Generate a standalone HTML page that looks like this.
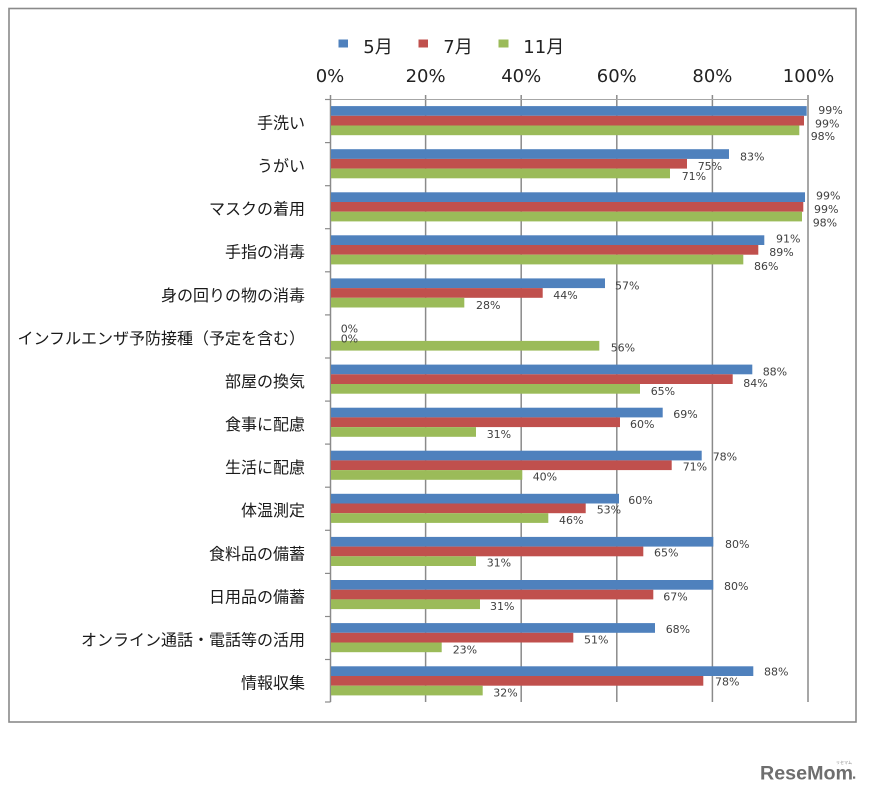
<!DOCTYPE html>
<html><head><meta charset="utf-8"><style>
html,body{margin:0;padding:0;background:#fff;}
svg{display:block;}
</style></head><body>
<svg width="869" height="797" viewBox="0 0 869 797" xmlns="http://www.w3.org/2000/svg">
<rect x="0" y="0" width="869" height="797" fill="#fff"/>
<rect x="9" y="8.5" width="847" height="713.5" fill="#fff" stroke="#8a8a8a" stroke-width="1.6"/>

<!-- legend -->
<g font-family="'DejaVu Sans','Noto Sans CJK JP',sans-serif" font-size="18" fill="#222">
<rect x="338.5" y="39.5" width="9.5" height="8" fill="#4F81BD"/>
<text x="363.3" y="53">5月</text>
<rect x="418.5" y="39.5" width="9.5" height="8" fill="#C0504D"/>
<text x="443.3" y="53">7月</text>
<rect x="498.5" y="39.5" width="10" height="8" fill="#9BBB59"/>
<text x="523.3" y="53">11月</text>
</g>

<!-- tick labels -->
<g font-family="'DejaVu Sans',sans-serif" font-size="18" fill="#222" text-anchor="middle">
<text x="330" y="82">0%</text>
<text x="425.6" y="82">20%</text>
<text x="521.2" y="82">40%</text>
<text x="616.8" y="82">60%</text>
<text x="712.4" y="82">80%</text>
<text x="808.5" y="82">100%</text>
</g>

<!-- grid -->
<g stroke="#8a8a8a" stroke-width="1.5">
<line x1="425.6" y1="95" x2="425.6" y2="702"/>
<line x1="521.2" y1="95" x2="521.2" y2="702"/>
<line x1="616.8" y1="95" x2="616.8" y2="702"/>
<line x1="712.4" y1="95" x2="712.4" y2="702"/>
<line x1="808" y1="95" x2="808" y2="702"/>
</g>
<line x1="325" y1="99.5" x2="808" y2="99.5" stroke="#a6a6a6" stroke-width="1"/>
<line x1="330.5" y1="95" x2="330.5" y2="702" stroke="#8a8a8a" stroke-width="1.5"/>
<g stroke="#8a8a8a" stroke-width="1.2">
<line x1="325" y1="99.5" x2="330.5" y2="99.5"/>
<line x1="325" y1="142.6" x2="330.5" y2="142.6"/>
<line x1="325" y1="185.7" x2="330.5" y2="185.7"/>
<line x1="325" y1="228.7" x2="330.5" y2="228.7"/>
<line x1="325" y1="271.8" x2="330.5" y2="271.8"/>
<line x1="325" y1="314.9" x2="330.5" y2="314.9"/>
<line x1="325" y1="358" x2="330.5" y2="358"/>
<line x1="325" y1="401.1" x2="330.5" y2="401.1"/>
<line x1="325" y1="444.1" x2="330.5" y2="444.1"/>
<line x1="325" y1="487.2" x2="330.5" y2="487.2"/>
<line x1="325" y1="530.3" x2="330.5" y2="530.3"/>
<line x1="325" y1="573.4" x2="330.5" y2="573.4"/>
<line x1="325" y1="616.5" x2="330.5" y2="616.5"/>
<line x1="325" y1="659.5" x2="330.5" y2="659.5"/>
<line x1="325" y1="702" x2="330.5" y2="702"/>
</g>

<!-- bars -->
<g id="bars">
<!-- cat1 top 99.5 -->
<rect x="331" y="106.1" width="475.7" height="9.7" fill="#4F81BD"/>
<rect x="331" y="115.8" width="473" height="9.7" fill="#C0504D"/>
<rect x="331" y="125.5" width="468.3" height="9.7" fill="#9BBB59"/>
<!-- cat2 142.6 -->
<rect x="331" y="149.2" width="398" height="9.7" fill="#4F81BD"/>
<rect x="331" y="158.9" width="356" height="9.7" fill="#C0504D"/>
<rect x="331" y="168.6" width="339" height="9.7" fill="#9BBB59"/>
<!-- cat3 185.7 -->
<rect x="331" y="192.3" width="474" height="9.7" fill="#4F81BD"/>
<rect x="331" y="202" width="472.3" height="9.7" fill="#C0504D"/>
<rect x="331" y="211.7" width="471" height="9.7" fill="#9BBB59"/>
<!-- cat4 228.7 -->
<rect x="331" y="235.3" width="433.3" height="9.7" fill="#4F81BD"/>
<rect x="331" y="245" width="427.3" height="9.7" fill="#C0504D"/>
<rect x="331" y="254.7" width="412.3" height="9.7" fill="#9BBB59"/>
<!-- cat5 271.8 -->
<rect x="331" y="278.4" width="274" height="9.7" fill="#4F81BD"/>
<rect x="331" y="288.1" width="211.7" height="9.7" fill="#C0504D"/>
<rect x="331" y="297.8" width="133.3" height="9.7" fill="#9BBB59"/>
<!-- cat6 314.9 -->
<rect x="331" y="340.9" width="268.3" height="9.7" fill="#9BBB59"/>
<!-- cat7 358 -->
<rect x="331" y="364.6" width="421.3" height="9.7" fill="#4F81BD"/>
<rect x="331" y="374.3" width="401.7" height="9.7" fill="#C0504D"/>
<rect x="331" y="384" width="309" height="9.7" fill="#9BBB59"/>
<!-- cat8 401.1 -->
<rect x="331" y="407.7" width="331.7" height="9.7" fill="#4F81BD"/>
<rect x="331" y="417.4" width="289" height="9.7" fill="#C0504D"/>
<rect x="331" y="427.1" width="145" height="9.7" fill="#9BBB59"/>
<!-- cat9 444.1 -->
<rect x="331" y="450.7" width="370.7" height="9.7" fill="#4F81BD"/>
<rect x="331" y="460.4" width="340.7" height="9.7" fill="#C0504D"/>
<rect x="331" y="470.1" width="191.3" height="9.7" fill="#9BBB59"/>
<!-- cat10 487.2 -->
<rect x="331" y="493.8" width="288" height="9.7" fill="#4F81BD"/>
<rect x="331" y="503.5" width="254.7" height="9.7" fill="#C0504D"/>
<rect x="331" y="513.2" width="217.3" height="9.7" fill="#9BBB59"/>
<!-- cat11 530.3 -->
<rect x="331" y="536.9" width="382.3" height="9.7" fill="#4F81BD"/>
<rect x="331" y="546.6" width="312.3" height="9.7" fill="#C0504D"/>
<rect x="331" y="556.3" width="145" height="9.7" fill="#9BBB59"/>
<!-- cat12 573.4 -->
<rect x="331" y="580" width="382.3" height="9.7" fill="#4F81BD"/>
<rect x="331" y="589.7" width="322.3" height="9.7" fill="#C0504D"/>
<rect x="331" y="599.4" width="149" height="9.7" fill="#9BBB59"/>
<!-- cat13 616.5 -->
<rect x="331" y="623.1" width="324" height="9.7" fill="#4F81BD"/>
<rect x="331" y="632.8" width="242.3" height="9.7" fill="#C0504D"/>
<rect x="331" y="642.5" width="110.7" height="9.7" fill="#9BBB59"/>
<!-- cat14 659.5 -->
<rect x="331" y="666.3" width="422.3" height="9.7" fill="#4F81BD"/>
<rect x="331" y="676" width="372.3" height="9.7" fill="#C0504D"/>
<rect x="331" y="685.7" width="151.7" height="9.7" fill="#9BBB59"/>
</g>

<!-- value labels -->
<g font-family="'DejaVu Sans',sans-serif" font-size="11" fill="#404040">
<text x="818.3" y="114">99%</text><text x="815" y="127.3">99%</text><text x="810.7" y="140">98%</text>
<text x="740" y="160.7">83%</text><text x="697.7" y="170">75%</text><text x="681.7" y="180">71%</text>
<text x="816" y="199.3">99%</text><text x="814" y="213">99%</text><text x="812.7" y="226.3">98%</text>
<text x="776" y="242.7">91%</text><text x="769.3" y="256">89%</text><text x="754" y="270">86%</text>
<text x="615" y="289.5">57%</text><text x="553.3" y="299">44%</text><text x="476" y="309">28%</text>
<text x="340.7" y="332.3">0%</text><text x="340.7" y="342.3">0%</text><text x="610.7" y="351.3">56%</text>
<text x="762.7" y="375.3">88%</text><text x="743.3" y="387">84%</text><text x="650.7" y="395">65%</text>
<text x="673.3" y="418">69%</text><text x="630" y="428">60%</text><text x="486.7" y="438">31%</text>
<text x="712.7" y="460.7">78%</text><text x="682.7" y="470.7">71%</text><text x="532.7" y="480.7">40%</text>
<text x="628.3" y="504">60%</text><text x="596.7" y="513.3">53%</text><text x="559" y="524">46%</text>
<text x="725" y="548">80%</text><text x="654" y="556.7">65%</text><text x="486.7" y="566.7">31%</text>
<text x="724" y="590">80%</text><text x="663.3" y="600.7">67%</text><text x="490" y="610">31%</text>
<text x="665.7" y="633">68%</text><text x="584" y="643.3">51%</text><text x="452.7" y="653.3">23%</text>
<text x="764" y="675.7">88%</text><text x="715" y="685.7">78%</text><text x="493.3" y="696.7">32%</text>
</g>

<!-- category labels -->
<g font-family="'Liberation Sans','Noto Sans CJK JP',sans-serif" font-size="16" fill="#1a1a1a" text-anchor="end">
<text x="305" y="128.5">手洗い</text>
<text x="305" y="171.6">うがい</text>
<text x="305" y="214.7">マスクの着用</text>
<text x="305" y="257.7">手指の消毒</text>
<text x="305" y="300.8">身の回りの物の消毒</text>
<text x="305" y="343.9">インフルエンザ予防接種（予定を含む）</text>
<text x="305" y="387">部屋の換気</text>
<text x="305" y="430.1">食事に配慮</text>
<text x="305" y="473.1">生活に配慮</text>
<text x="305" y="516.2">体温測定</text>
<text x="305" y="559.3">食料品の備蓄</text>
<text x="305" y="602.4">日用品の備蓄</text>
<text x="305" y="645.5">オンライン通話・電話等の活用</text>
<text x="305" y="688.5">情報収集</text>
</g>

<!-- watermark -->
<text x="760" y="779.5" font-family="'Liberation Sans',sans-serif" font-weight="bold" font-size="19" fill="#6e6e6e" textLength="93" lengthAdjust="spacingAndGlyphs">ReseMom</text>
<text x="836" y="764" font-family="'Noto Sans CJK JP',sans-serif" font-size="4" fill="#888">リセマム</text>
<rect x="853" y="776.5" width="2.2" height="2.2" fill="#6e6e6e"/>
</svg>
</body></html>
